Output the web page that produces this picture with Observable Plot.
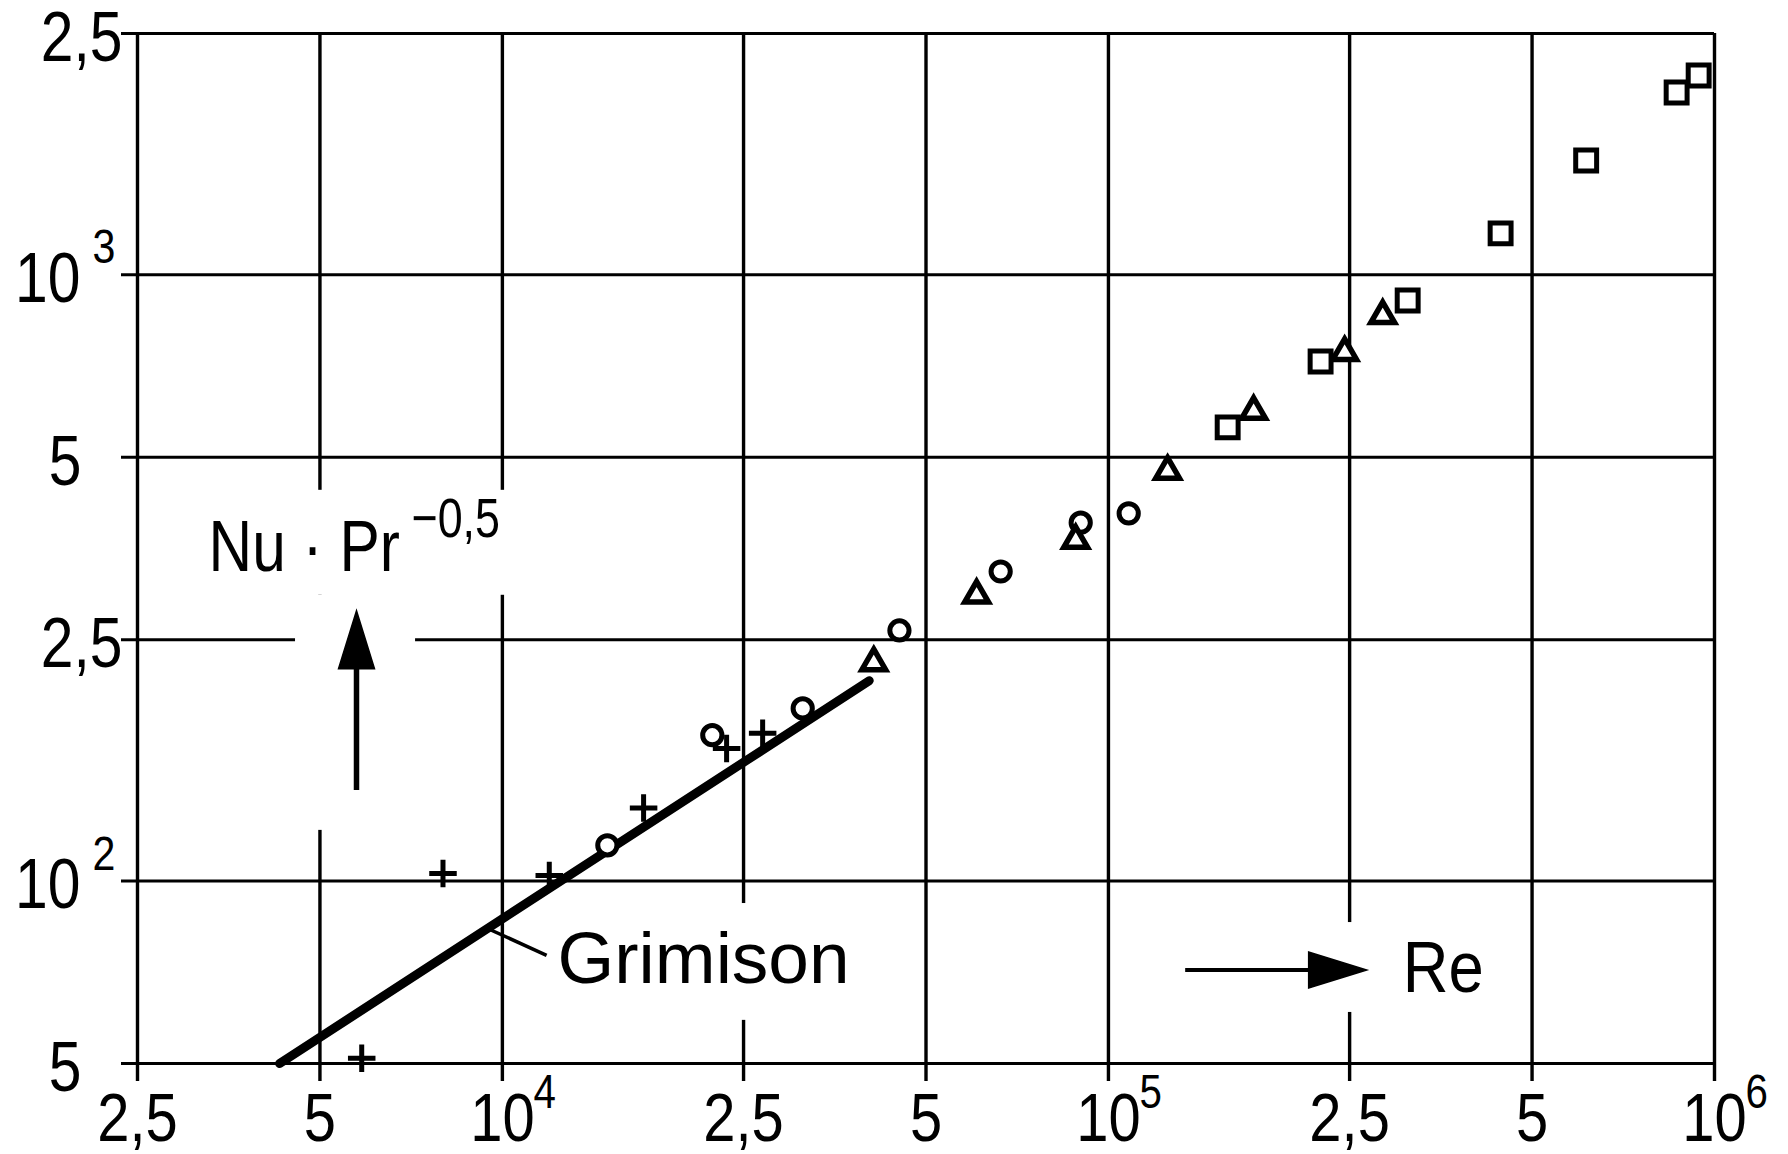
<!DOCTYPE html>
<html>
<head>
<meta charset="utf-8">
<script src="https://cdn.jsdelivr.net/npm/d3@7"></script>
<script src="https://cdn.jsdelivr.net/npm/@observablehq/plot@0.6"></script>
<style>
  html, body { margin: 0; padding: 0; background: #fff; }
  #chart svg { display: block; }
</style>
</head>
<body>
<div id="chart"></div>
<script>
// Gridline values of both log axes and their printed labels (mantissa + exponent)
const reTicks = [2500, 5000, 1e4, 2.5e4, 5e4, 1e5, 2.5e5, 5e5, 1e6];
const reTickMantissa = ["2,5", "5", "10", "2,5", "5", "10", "2,5", "5", "10"];
const reTickExponent = ["", "", "4", "", "", "5", "", "", "6"];
const nuTicks = [50, 100, 250, 500, 1000, 2500];
const nuTickMantissa = ["5", "10", "2,5", "5", "10", "2,5"];
const nuTickExponent = ["", "2", "", "", "3", ""];

// Measured Nu·Pr^-0.5 against Re, one pair of arrays per marker type
const circleRe = [14900, 22200, 31300, 45200, 66400, 90000, 108000];
const circleNu = [114.5, 174, 192.6, 259, 324, 390, 404];
const triangleRe = [41000, 60600, 88300, 125200, 173600, 245300, 283500];
const triangleNu = [229, 296, 364.5, 474, 595, 744, 856];
const squareRe = [157300, 223900, 311700, 443700, 614100, 866000, 941600];
const squareNu = [560, 719.5, 907, 1170, 1543, 1998, 2132];
const plusRe = [5860, 7980, 11950, 17100, 23440, 26880];
const plusNu = [51, 102.9, 102.1, 131.9, 165.4, 175.2];

// Grimison correlation, drawn between its end points
const grimisonRe = [4290, 40300];
const grimisonNu = [50, 214];

const ink = "#000";
// Two spellings of the same face: texts in the first one are condensed after rendering
const condensedFace = "Liberation Sans, Arimo, sans-serif";
const regularFace = "'Liberation Sans', Arimo, sans-serif";

const zip = (xs, ys) => xs.map((x, i) => ({re: x, nu: ys[i]}));
const reTickData = reTicks.map((v, i) => ({v, m: reTickMantissa[i], e: reTickExponent[i]}));
const nuTickData = nuTicks.map((v, i) => ({v, m: nuTickMantissa[i], e: nuTickExponent[i]}));

// Filled arrow head, tip pointing up; rotate to point elsewhere
const arrowHead = {
  draw(context, size) {
    const r = Math.sqrt(size / Math.PI);
    context.moveTo(0, -r);
    context.lineTo(0.62 * r, r);
    context.lineTo(-0.62 * r, r);
    context.closePath();
  }
};

// White cut-outs behind the annotations, in data coordinates
const clearings = [
  {re1: 3116, re2: 10513, nu1: 296, nu2: 441},     // behind "Nu · Pr^-0,5"
  {re1: 4557, re2: 7190, nu1: 121.2, nu2: 296},     // behind the upward arrow
  {re1: 12010, re2: 38250, nu1: 58.9, nu2: 91.8},   // behind "Grimison"
  {re1: 121900, re2: 427200, nu1: 60.7, nu2: 85.4}  // behind the Re arrow
];

const txt = {fill: ink, fontFamily: condensedFace};

const chart = Plot.plot({
  width: 1788,
  height: 1154,
  marginLeft: 137,
  marginRight: 74,
  marginTop: 33,
  marginBottom: 91,
  x: {type: "log", domain: [2500, 1e6], axis: null},
  y: {type: "log", domain: [50, 2500], axis: null},
  style: {background: "#fff", color: ink, fontFamily: regularFace, overflow: "visible"},
  marks: [
    // grid (the outer lines double as the frame), with ticks poking outside
    Plot.ruleX(reTicks, {x: d => d, stroke: ink, strokeWidth: 3.4, insetBottom: -18}),
    Plot.ruleY(nuTicks, {y: d => d, stroke: ink, strokeWidth: 3.1, insetLeft: -16}),

    Plot.rect(clearings, {x1: "re1", x2: "re2", y1: "nu1", y2: "nu2", fill: "#fff"}),

    // Grimison line and its leader
    Plot.line(zip(grimisonRe, grimisonNu), {x: "re", y: "nu", stroke: ink, strokeWidth: 9, strokeLinecap: "round"}),
    Plot.link([{re1: 9452, nu1: 83.5, re2: 11830, nu2: 75.4}], {x1: "re1", y1: "nu1", x2: "re2", y2: "nu2", stroke: ink, strokeWidth: 3.5}),

    // measurements
    Plot.dot(zip(plusRe, plusNu), {x: "re", y: "nu", symbol: "plus", r: 8.9, stroke: ink, strokeWidth: 5}),
    Plot.dot(zip(circleRe, circleNu), {x: "re", y: "nu", symbol: "circle", r: 9.6, fill: "#fff", stroke: ink, strokeWidth: 5}),
    Plot.dot(zip(triangleRe, triangleNu), {x: "re", y: "nu", symbol: "triangle", r: 8.8, fill: "#fff", stroke: ink, strokeWidth: 5.5}),
    Plot.dot(zip(squareRe, squareNu), {x: "re", y: "nu", symbol: "square", r: 11.8, fill: "#fff", stroke: ink, strokeWidth: 5}),

    // axis arrows
    Plot.ruleX([5745], {x: d => d, y1: 141, y2: 232, stroke: ink, strokeWidth: 5.5}),
    Plot.dot([{re: 5745, nu: 250}], {x: "re", y: "nu", symbol: arrowHead, r: 29, fill: ink, stroke: ink, strokeWidth: 1.5}),
    Plot.ruleY([71.3], {y: d => d, x1: 134100, x2: 230000, stroke: ink, strokeWidth: 4}),
    Plot.dot([{re: 238900, nu: 71.3}], {x: "re", y: "nu", symbol: arrowHead, r: 29, rotate: 90, fill: ink, stroke: ink, strokeWidth: 1.5}),

    // x tick labels
    Plot.text(reTickData, {...txt, x: "v", frameAnchor: "bottom", text: "m", textAnchor: "middle", lineAnchor: "bottom", dy: 77, fontSize: 69}),
    Plot.text(reTickData.filter(d => d.e), {...txt, x: "v", frameAnchor: "bottom", text: "e", textAnchor: "start", lineAnchor: "bottom", dx: 31, dy: 44, fontSize: 48}),

    // y tick labels
    Plot.text(nuTickData.filter(d => d.m === "2,5"), {...txt, y: "v", frameAnchor: "left", text: "m", textAnchor: "end", dx: -15, dy: 5, fontSize: 70}),
    Plot.text(nuTickData.filter(d => d.m === "5"), {...txt, y: "v", frameAnchor: "left", text: "m", textAnchor: "end", dx: -56, dy: 5, fontSize: 70}),
    Plot.text(nuTickData.filter(d => d.m === "10"), {...txt, y: "v", frameAnchor: "left", text: "m", textAnchor: "end", dx: -57, dy: 5, fontSize: 70}),
    Plot.text(nuTickData.filter(d => d.e), {...txt, y: "v", frameAnchor: "left", text: "e", textAnchor: "start", dx: -45, dy: -27, fontSize: 49}),

    // axis titles and annotation
    Plot.text([{re: 3274, nu: 325.2}], {...txt, x: "re", y: "nu", text: () => "Nu · Pr", textAnchor: "start", lineAnchor: "bottom", fontSize: 72}),
    Plot.text([{re: 3274, nu: 325.2}], {...txt, x: "re", y: "nu", text: () => "\u22120,5", textAnchor: "start", lineAnchor: "bottom", dx: 203, dy: -34, fontSize: 56}),
    Plot.text([{re: 305800, nu: 65.5}], {...txt, x: "re", y: "nu", text: () => "Re", textAnchor: "start", lineAnchor: "bottom", fontSize: 72}),
    Plot.text([{re: 12330, nu: 68.0}], {x: "re", y: "nu", text: () => "Grimison", textAnchor: "start", lineAnchor: "bottom", fontSize: 73, fontFamily: regularFace, fill: ink})
  ]
});

// Narrow the lettering set in the condensed face (squeeze about each text's own anchor)
for (const g of chart.querySelectorAll("g[font-family]")) {
  if (g.getAttribute("font-family") !== condensedFace) continue;
  for (const t of g.querySelectorAll("text")) {
    const s = t.textContent === "Re" ? 0.88 : t.textContent === "\u22120,5" ? 0.8 : 0.84;
    t.setAttribute("transform", `${t.getAttribute("transform") || ""} scale(${s},1)`);
  }
}

document.getElementById("chart").append(chart);
</script>
</body>
</html>
